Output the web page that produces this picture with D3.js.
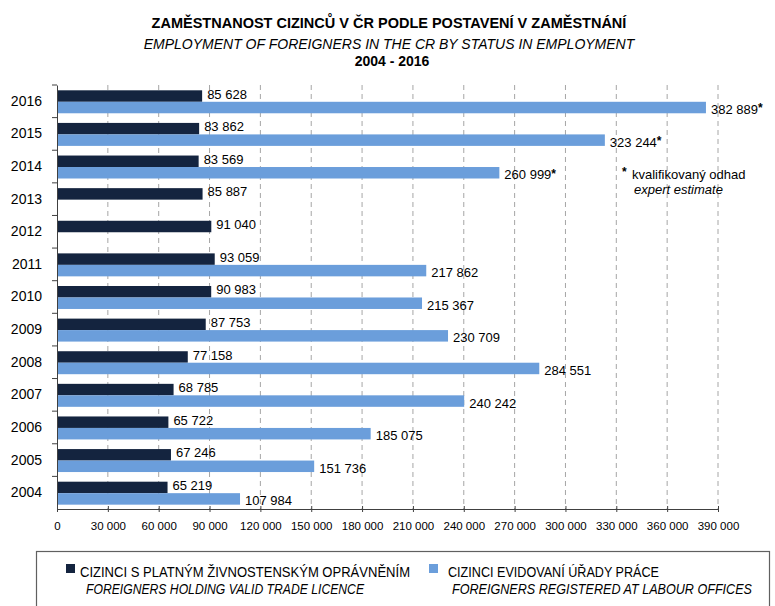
<!DOCTYPE html>
<html>
<head>
<meta charset="utf-8">
<script src="https://cdn.jsdelivr.net/npm/d3@7"></script>
<style>
  body { margin: 0; background: #fff; }
  svg { display: block; font-family: "Liberation Sans", sans-serif; }
</style>
</head>
<body>
<div id="chart"></div>
<script>
// data
var years = [2004, 2005, 2006, 2007, 2008, 2009, 2010, 2011, 2012, 2013, 2014, 2015, 2016];
var tradeLicence = [65219, 67246, 65722, 68785, 77158, 87753, 90983, 93059, 91040, 85887, 83569, 83862, 85628];
var labourOffices = [107984, 151736, 185075, 240242, 284551, 230709, 215367, 217862, null, null, 260999, 323244, 382889];
var estimateYears = [2014, 2015, 2016];
var xTicks = [0, 30000, 60000, 90000, 120000, 150000, 180000, 210000, 240000, 270000, 300000, 330000, 360000, 390000];

var titleCz = "ZAMĚSTNANOST CIZINCŮ V ČR PODLE POSTAVENÍ V ZAMĚSTNÁNÍ";
var titleEn = "EMPLOYMENT OF FOREIGNERS IN THE CR BY STATUS IN EMPLOYMENT";
var titleYears = "2004 - 2016";
var seriesCz = ["CIZINCI S PLATNÝM ŽIVNOSTENSKÝM OPRÁVNĚNÍM", "CIZINCI EVIDOVANÍ ÚŘADY PRÁCE"];
var seriesEn = ["FOREIGNERS HOLDING VALID TRADE LICENCE", "FOREIGNERS REGISTERED AT LABOUR OFFICES"];
var colors = ["#14243f", "#6b9edb"];

var width = 775, height = 606;
var plotLeft = 57, plotRight = 718, plotTop = 85, plotBottom = 509;

var locale = d3.formatLocale({ decimal: ",", thousands: " ", grouping: [3], currency: ["", ""] });
var fmt = locale.format(",d");

var svg = d3.select('#chart')
    .append('svg')
    .attr('width', width)
    .attr('height', height)

// titles
svg.append('text').attr('x', 389).attr('y', 28).attr('text-anchor', 'middle')
    .style('font-weight', 'bold').style('font-size', '14.5px').text(titleCz)
svg.append('text').attr('x', 389).attr('y', 49).attr('text-anchor', 'middle')
    .style('font-style', 'italic').style('font-size', '14px').text(titleEn)
svg.append('text').attr('x', 392).attr('y', 66).attr('text-anchor', 'middle')
    .style('font-weight', 'bold').style('font-size', '14px').text(titleYears)

var rows = years.map(function(y, i) {
    return { year: y, trade: tradeLicence[i], labour: labourOffices[i] }
})

var x = d3.scaleLinear()
    .domain([0, 390000])
    .range([plotLeft, plotRight])

var y = d3.scaleBand()
    .domain(years.slice().reverse())
    .range([plotTop, plotBottom])

var inner = d3.scaleBand()
    .domain(["trade", "labour"])
    .range([0, y.bandwidth()])
    .paddingOuter(0.42)
    .align(0.55)

// dashed gridlines
svg.append('g')
    .selectAll('line')
    .data(xTicks.slice(1))
    .enter()
    .append('line')
    .attr('x1', function(d) { return x(d) })
    .attr('x2', function(d) { return x(d) })
    .attr('y1', plotTop)
    .attr('y2', plotBottom)
    .attr('stroke', '#a6a6a6')
    .attr('stroke-dasharray', '5,4')

// bars
var rowG = svg.append('g')
    .selectAll('g')
    .data(rows)
    .enter()
    .append('g')
    .attr('transform', function(d) { return 'translate(0,' + y(d.year) + ')' })

rowG.append('rect')
    .attr('x', x(0))
    .attr('y', inner('trade'))
    .attr('width', function(d) { return x(d.trade) - x(0) })
    .attr('height', inner.bandwidth())
    .attr('fill', colors[0])

rowG.filter(function(d) { return d.labour != null })
    .append('rect')
    .attr('x', x(0))
    .attr('y', inner('labour'))
    .attr('width', function(d) { return x(d.labour) - x(0) })
    .attr('height', inner.bandwidth())
    .attr('fill', colors[1])

// value labels
rowG.append('text')
    .attr('x', function(d) { return x(d.trade) + 5 })
    .attr('y', inner('trade') + inner.bandwidth() / 2 - 2)
    .attr('dy', '0.35em')
    .style('font-size', '13px')
    .text(function(d) { return fmt(d.trade) })

var labourLabel = rowG.filter(function(d) { return d.labour != null })
    .append('text')
    .attr('x', function(d) { return x(d.labour) + 5 })
    .attr('y', inner('labour') + inner.bandwidth() / 2 + 2)
    .attr('dy', '0.35em')
    .style('font-size', '13px')
    .text(function(d) { return fmt(d.labour) })

labourLabel.filter(function(d) { return estimateYears.indexOf(d.year) >= 0 })
    .append('tspan')
    .attr('dy', '-0.15em')
    .style('font-size', '12px')
    .style('font-weight', 'bold')
    .text('*')

// axes
var xAxis = svg.append('g')
    .attr('transform', 'translate(0,' + plotBottom + ')')
    .call(d3.axisBottom(x).tickValues(xTicks).tickFormat(fmt).tickSizeInner(3).tickSizeOuter(0))
xAxis.select('.domain').attr('stroke', '#404040')
xAxis.selectAll('.tick line').attr('stroke', '#404040').attr('y1', -3).attr('y2', 3)
xAxis.selectAll('.tick text')
    .attr('y', 13)
    .style('font-family', '"Liberation Sans", sans-serif')
    .style('font-size', '11.5px')
    .attr('fill', '#000')

var yAxis = svg.append('g')
    .attr('transform', 'translate(' + plotLeft + ',0)')
    .call(d3.axisLeft(y).tickSize(0).tickPadding(15))
yAxis.select('.domain').attr('stroke', '#404040')
yAxis.selectAll('.tick text')
    .style('font-family', '"Liberation Sans", sans-serif')
    .style('font-size', '14px')
    .attr('fill', '#000')

// category boundary ticks
yAxis.append('g')
    .selectAll('line')
    .data(years.slice(1))
    .enter()
    .append('line')
    .attr('x1', -5)
    .attr('x2', 0)
    .attr('y1', function(d) { return y(d) + y.bandwidth() })
    .attr('y2', function(d) { return y(d) + y.bandwidth() })
    .attr('stroke', '#404040')
yAxis.append('line')
    .attr('x1', -5).attr('x2', 0)
    .attr('y1', plotTop).attr('y2', plotTop)
    .attr('stroke', '#404040')

// footnote
var note = svg.append('g').attr('transform', 'translate(622,179)')
note.append('text').style('font-size', '12px').style('font-weight', 'bold').attr('y', -3).text('*')
note.append('text').attr('x', 10).style('font-size', '13px').text('kvalifikovaný odhad')
note.append('text').attr('x', 12).attr('y', 15).style('font-size', '13px').style('font-style', 'italic').text('expert estimate')

// legend
var legend = svg.append('g')
legend.append('rect')
    .attr('x', 36.5).attr('y', 551.5)
    .attr('width', 733).attr('height', 70)
    .attr('fill', 'none')
    .attr('stroke', '#606060')
    .attr('stroke-width', 1.2)

var legendX = [66, 429];
var czWidth = [330, 211];
var enWidth = [278, 300];
var legendItem = legend.selectAll('g.item')
    .data(seriesCz)
    .enter()
    .append('g')
    .attr('class', 'item')
    .attr('transform', function(d, i) { return 'translate(' + legendX[i] + ',564)' })

legendItem.append('rect')
    .attr('width', 9).attr('height', 9)
    .attr('fill', function(d, i) { return colors[i] })
legendItem.append('text')
    .attr('x', function(d, i) { return i == 0 ? 14 : 19 })
    .attr('y', 13)
    .attr('textLength', function(d, i) { return czWidth[i] })
    .attr('lengthAdjust', 'spacingAndGlyphs')
    .style('font-size', '14px')
    .text(function(d) { return d })
legendItem.append('text')
    .attr('x', function(d, i) { return i == 0 ? 20 : 23 })
    .attr('y', 30)
    .attr('textLength', function(d, i) { return enWidth[i] })
    .attr('lengthAdjust', 'spacingAndGlyphs')
    .style('font-size', '14px')
    .style('font-style', 'italic')
    .text(function(d, i) { return seriesEn[i] })
</script>
</body>
</html>
